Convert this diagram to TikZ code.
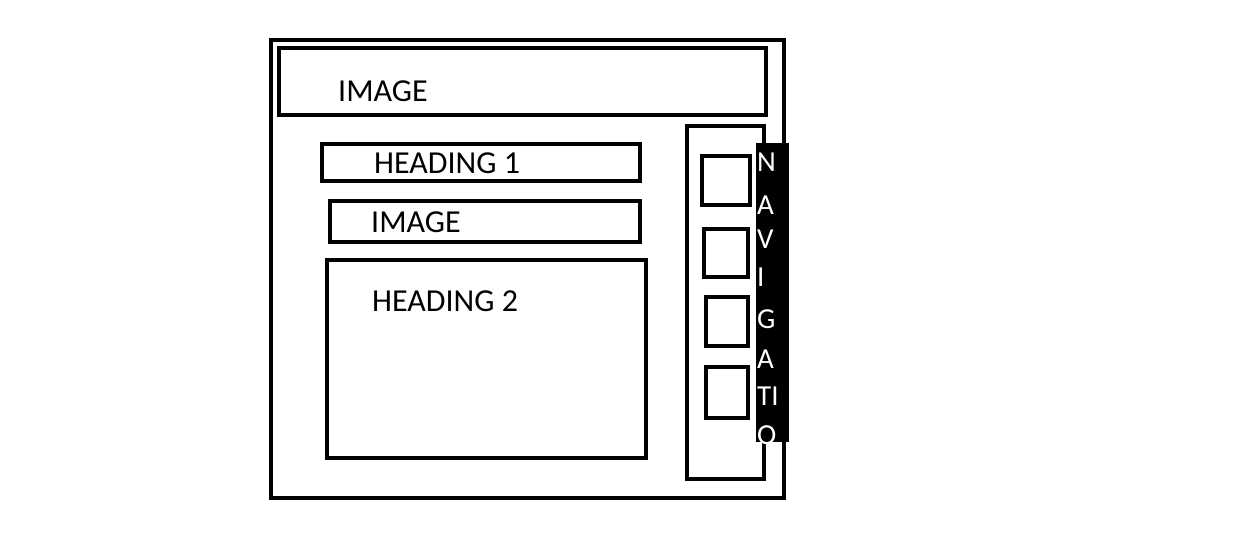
\documentclass[tikz,border=0pt]{standalone}
\usepackage{fontspec}
\setmainfont{Carlito}

\begin{document}
\begin{tikzpicture}[x=1pt,y=-1pt,
		box/.style={draw=black, line width=4.5pt},
		lbl/.style={anchor=west, inner sep=0pt, font=\fontsize{32}{32}\selectfont},
		navlbl/.style={anchor=west, inner sep=0pt, text=white, font=\fontsize{29}{29}\selectfont}]
				\useasboundingbox (0,0) rectangle (1233,533);
				
				% page frame and banner
				\draw[box] (271,40) rectangle (784,498);
				\draw[box] (279,48) rectangle (766,115);
				\node[lbl] (banner) at (338,91) {IMAGE};
				
				% content column
				\draw[box] (322,144) rectangle (640,181);
				\node[lbl] (head1) at (374,163) {HEADING 1};
				\draw[box] (330,201) rectangle (640,242);
				\node[lbl] (img) at (371,222) {IMAGE};
				\draw[box] (327,260) rectangle (646,458);
				\node[lbl] (head2) at (372,301) {HEADING 2};
				
				% navigation panel
				\draw[box] (687,126) rectangle (764,479);
				\draw[box] (702,156) rectangle (750,205);
				\draw[box] (704,229) rectangle (748,277);
				\draw[box] (706,297) rectangle (748,346);
				\draw[box] (706,367) rectangle (748,418);
				
				\fill[black] (756,143) rectangle (789,442);
				\node[navlbl] (n1) at (757,162) {N};
				\node[navlbl] (n2) at (757,205) {A};
				\node[navlbl] (n3) at (757,239) {V};
				\node[navlbl] (n4) at (757,277) {I};
				\node[navlbl] (n5) at (757,319) {G};
				\node[navlbl] (n6) at (757,359) {A};
				\node[navlbl] (n7) at (757,396) {TI};
				\node[navlbl] (n8) at (757,435) {O};
\end{tikzpicture}
\end{document}
